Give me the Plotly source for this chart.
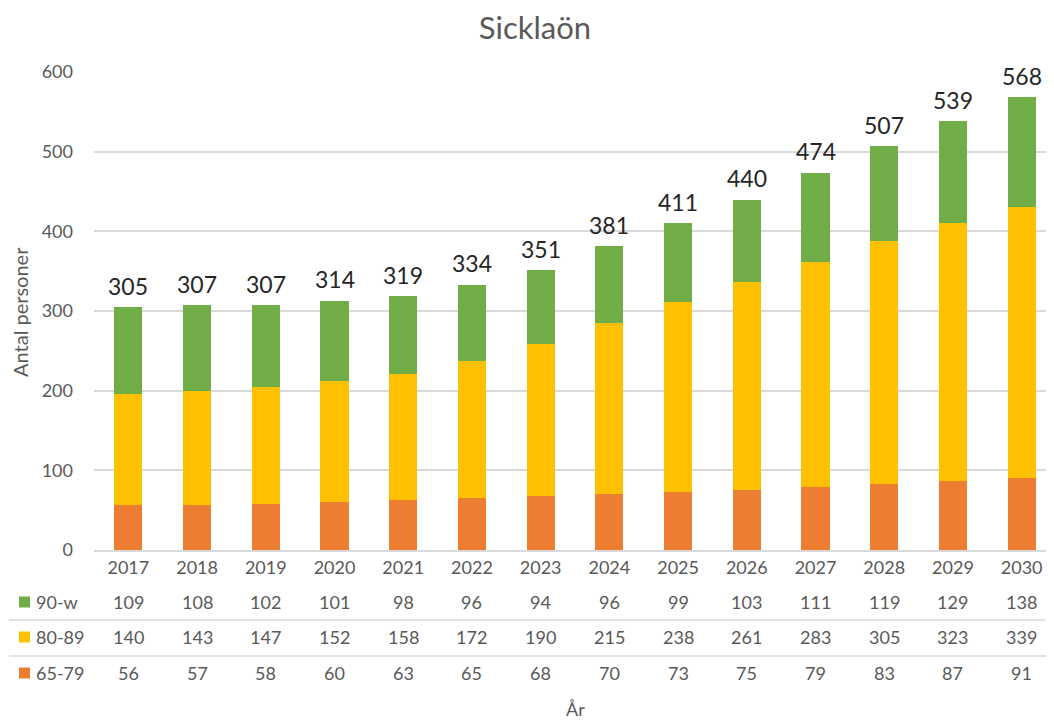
import plotly.graph_objects as go

years = ["2017", "2018", "2019", "2020", "2021", "2022", "2023", "2024",
         "2025", "2026", "2027", "2028", "2029", "2030"]
age_65_79 = [56, 57, 58, 60, 63, 65, 68, 70, 73, 75, 79, 83, 87, 91]
age_80_89 = [140, 143, 147, 152, 158, 172, 190, 215, 238, 261, 283, 305, 323, 339]
age_90_w = [109, 108, 102, 101, 98, 96, 94, 96, 99, 103, 111, 119, 129, 138]
totals = [305, 307, 307, 314, 319, 334, 351, 381, 411, 440, 474, 507, 539, 568]
series_names = ["65-79", "80-89", "90-w"]
colors = {"65-79": "#ED7D31", "80-89": "#FFC000", "90-w": "#70AD47"}
series_vals = {"65-79": age_65_79, "80-89": age_80_89, "90-w": age_90_w}

OFF = 8  # page body margin offset
W, H = 1054, 722
ML, MR, MT, MB = 94 - OFF, 6, 72 - OFF, H - (550 - OFF)
PW = W - ML - MR
PH = H - MT - MB
FONT = "Lato"
GRAY = "#595959"
FS = 18


def px_x(p):
    return (p - OFF - ML) / PW


def px_y(p):
    return (H - MB - (p - OFF)) / PH


fig = go.Figure()
for name in series_names:
    fig.add_trace(go.Bar(x=years, y=series_vals[name], name=name,
                         marker=dict(color=colors[name], line=dict(width=0)),
                         showlegend=False))

annotations = []
for i, t in enumerate(totals):
    annotations.append(dict(x=i, y=t, xref="x", yref="y", text=str(t),
                            showarrow=False, yanchor="bottom", yshift=5,
                            font=dict(family=FONT, size=23, color="#262626")))

# data table rows
row_pix = {"90-w": 602, "80-89": 637, "65-79": 673}
for name in ["90-w", "80-89", "65-79"]:
    ry = px_y(row_pix[name])
    for i, v in enumerate(series_vals[name]):
        annotations.append(dict(x=i, y=ry, xref="x", yref="paper", text=str(v),
                                showarrow=False, yanchor="middle",
                                font=dict(family=FONT, size=FS, color=GRAY)))
    annotations.append(dict(x=px_x(34), y=ry, xref="paper", yref="paper", text=name,
                            showarrow=False, xanchor="left", yanchor="middle",
                            font=dict(family=FONT, size=FS, color=GRAY)))

annotations.append(dict(x=0.5, y=px_y(709), xref="paper", yref="paper", text="År",
                        showarrow=False, yanchor="middle",
                        font=dict(family=FONT, size=FS, color=GRAY)))
annotations.append(dict(x=px_x(20), y=px_y(312), xref="paper", yref="paper",
                        text="Antal personer", textangle=-90, showarrow=False,
                        xanchor="center", yanchor="middle",
                        font=dict(family=FONT, size=20, color=GRAY)))

shapes = []
for p in [620, 656]:
    shapes.append(dict(type="line", xref="paper", yref="paper", x0=px_x(9), x1=1,
                       y0=px_y(p), y1=px_y(p), line=dict(color="#d9d9d9", width=1.5)))
for name in ["90-w", "80-89", "65-79"]:
    c = row_pix[name]
    shapes.append(dict(type="rect", xref="paper", yref="paper",
                       x0=px_x(19), x1=px_x(30), y0=px_y(c + 5.5), y1=px_y(c - 5.5),
                       fillcolor=colors[name], line=dict(width=0)))

fig.update_layout(
    width=W, height=H,
    margin=dict(l=ML, r=MR, t=MT, b=MB, autoexpand=False),
    paper_bgcolor="white", plot_bgcolor="white",
    barmode="stack", bargap=0.59,
    title=dict(text="Sicklaön", x=0.5, xanchor="center", y=1 - (28 - OFF) / H,
               yanchor="middle", font=dict(family=FONT, size=31, color=GRAY)),
    xaxis=dict(type="category", range=[-0.5, len(years) - 0.5], autorange=False,
               showline=True, linecolor="#d9d9d9", linewidth=1.5,
               ticks="", ticklabelstandoff=1,
               tickfont=dict(family=FONT, size=FS, color=GRAY), showgrid=False),
    yaxis=dict(range=[0, 600], dtick=100, showgrid=True, gridcolor="#d9d9d9",
               gridwidth=1.5, zeroline=False, showline=False, ticks="",
               ticklabelstandoff=20,
               tickfont=dict(family=FONT, size=FS, color=GRAY)),
    annotations=annotations,
    shapes=shapes,
)

fig.write_html("out.html")
